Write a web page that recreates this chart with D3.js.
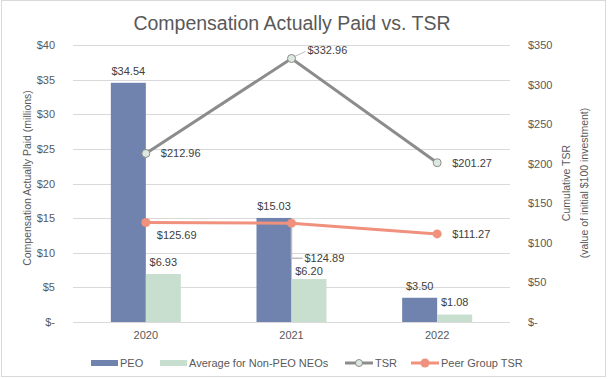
<!DOCTYPE html>
<html>
<head>
<meta charset="utf-8">
<script src="https://cdn.jsdelivr.net/npm/d3@7"></script>
<style>
  body { margin: 0; background: #fff; }
  text { font-family: "Liberation Sans", Arial, sans-serif; fill: #595959; }
</style>
</head>
<body>
<div id="chart"></div>
<script>
// data
const years = ["2020", "2021", "2022"];
const peo = [34.54, 15.03, 3.50];
const neo = [6.93, 6.20, 1.08];
const tsr = [212.96, 332.96, 201.27];
const peer = [125.69, 124.89, 111.27];
const leftTicks = [0, 5, 10, 15, 20, 25, 30, 35, 40];
const rightTicks = [0, 50, 100, 150, 200, 250, 300, 350];

const width = 608, height = 379;
const plotLeft = 73, plotRight = 510, plotTop = 45, plotBottom = 322;

const svg = d3.select("#chart").append("svg")
  .attr("width", width).attr("height", height);

svg.append("rect")
  .attr("x", 1.5).attr("y", 0.5)
  .attr("width", 604).attr("height", 376)
  .attr("fill", "#fff").attr("stroke", "#d9d9d9");

const x = d3.scaleBand().domain(years).range([plotLeft, plotRight]);
const xb = d3.scaleBand().domain(["peo", "neo"]).range([-35, 35]);
const y = d3.scaleLinear().domain([0, 40]).range([plotBottom, plotTop]);
const y2 = d3.scaleLinear().domain([0, 350]).range([plotBottom, plotTop]);
const cx = d => x(d) + x.bandwidth() / 2;

const money = d => d === 0 ? "$-" : "$" + d;
const money2 = d => "$" + d.toFixed(2);
const labelColor = "#404040";

// grid lines
svg.append("g").selectAll("line").data(leftTicks).enter().append("line")
  .attr("x1", plotLeft).attr("x2", plotRight)
  .attr("y1", d => Math.round(y(d)) + 0.5).attr("y2", d => Math.round(y(d)) + 0.5)
  .attr("stroke", "#d9d9d9");

// left axis
const ax = svg.append("g")
  .attr("transform", `translate(${plotLeft - 15},0)`)
  .call(d3.axisLeft(y).tickValues(leftTicks).tickFormat(money).tickSize(0));
ax.select(".domain").remove();
ax.selectAll("text").attr("font-size", 11).attr("fill", "#595959");

// right axis
const ay = svg.append("g")
  .attr("transform", `translate(${plotRight + 15},0)`)
  .call(d3.axisRight(y2).tickValues(rightTicks).tickFormat(money).tickSize(0));
ay.select(".domain").remove();
ay.selectAll("text").attr("font-size", 11).attr("fill", "#595959");

// x axis
const axb = svg.append("g")
  .attr("transform", `translate(0,${plotBottom + 6})`)
  .call(d3.axisBottom(x).tickSize(0));
axb.select(".domain").remove();
axb.selectAll("text").attr("font-size", 11).attr("fill", "#595959");

// bars
const barColors = { peo: "#6f83ae", neo: "#c8dfcf" };
const series = [["peo", peo], ["neo", neo]];
const labelGap = [[12, 12, 12], [12, 8, 12]];
series.forEach(([key, vals], si) => {
  svg.append("g").selectAll("rect").data(vals).enter().append("rect")
    .attr("x", (d, i) => cx(years[i]) + xb(key))
    .attr("y", d => y(d))
    .attr("width", xb.bandwidth())
    .attr("height", d => plotBottom - y(d))
    .attr("fill", barColors[key]);
  svg.append("g").selectAll("text").data(vals).enter().append("text")
    .attr("x", (d, i) => cx(years[i]) + xb(key) + xb.bandwidth() / 2)
    .attr("y", (d, i) => y(d) - labelGap[si][i])
    .attr("dy", "0.35em")
    .attr("text-anchor", "middle")
    .attr("font-size", 11)
    .style("fill", labelColor)
    .text(money2);
});

// lines
const line = d3.line().x((d, i) => cx(years[i])).y(d => y2(d));
svg.append("path").datum(tsr).attr("d", line)
  .attr("fill", "none").attr("stroke", "#8c8c8c").attr("stroke-width", 3);
svg.append("path").datum(peer).attr("d", line)
  .attr("fill", "none").attr("stroke", "#f0917e").attr("stroke-width", 3);

// leader lines
svg.append("line")
  .attr("x1", cx("2021") + 3).attr("y1", y2(tsr[1]) - 2)
  .attr("x2", cx("2021") + 14).attr("y2", y2(tsr[1]) - 7)
  .attr("stroke", "#bfbfbf");
svg.append("polyline")
  .attr("points", [[cx("2021"), y2(peer[1]) + 3], [cx("2021"), y2(peer[1]) + 35], [cx("2021") + 11, y2(peer[1]) + 35]].join(" "))
  .attr("fill", "none").attr("stroke", "#bfbfbf").attr("stroke-width", 1.5);

svg.append("g").selectAll("circle").data(tsr).enter().append("circle")
  .attr("cx", (d, i) => cx(years[i])).attr("cy", d => y2(d)).attr("r", 4)
  .attr("fill", "#dce9e0").attr("stroke", "#8c8c8c").attr("stroke-width", 1);
svg.append("g").selectAll("circle").data(peer).enter().append("circle")
  .attr("cx", (d, i) => cx(years[i])).attr("cy", d => y2(d)).attr("r", 4.5)
  .attr("fill", "#f0917e");

// line labels (dx, dy relative to the point)
const tsrOff = [[15, 0], [16, -8], [15, 0]];
const peerOff = [[11, 13], [13, 35], [15, 0]];
[[tsr, tsrOff], [peer, peerOff]].forEach(([vals, off]) => {
  svg.append("g").selectAll("text").data(vals).enter().append("text")
    .attr("x", (d, i) => cx(years[i]) + off[i][0])
    .attr("y", (d, i) => y2(d) + off[i][1])
    .attr("dy", "0.35em")
    .attr("font-size", 11)
    .style("fill", labelColor)
    .text(money2);
});

// titles
svg.append("text").attr("x", 292).attr("y", 23).attr("dy", "0.35em")
  .attr("text-anchor", "middle").attr("font-size", 19.5)
  .text("Compensation Actually Paid vs. TSR");

svg.append("text")
  .attr("transform", "translate(27,178) rotate(-90)")
  .attr("dy", "0.35em").attr("text-anchor", "middle").attr("font-size", 10.5)
  .text("Compensation Actually Paid (millions)");

const rt = svg.append("text")
  .attr("transform", "translate(575,183) rotate(-90)")
  .attr("text-anchor", "middle").attr("font-size", 10.5);
rt.append("tspan").attr("x", 0).attr("dy", "-0.5em").text("Cumulative TSR");
rt.append("tspan").attr("x", 0).attr("dy", "1.75em").text("(value of initial $100 investment)");

// legend
const ly = 363;
const legend = [
  { type: "bar", color: "#6f83ae", label: "PEO", x: 91 },
  { type: "bar", color: "#c8dfcf", label: "Average for Non-PEO NEOs", x: 160 },
  { type: "tsr", color: "#8c8c8c", label: "TSR", x: 345 },
  { type: "peer", color: "#f0917e", label: "Peer Group TSR", x: 411 }
];
const lg = svg.append("g").selectAll("g").data(legend).enter().append("g")
  .attr("transform", d => `translate(${d.x},${ly})`);
lg.filter(d => d.type === "bar").append("rect")
  .attr("x", 0).attr("y", -3).attr("width", 27).attr("height", 6)
  .attr("fill", d => d.color);
lg.filter(d => d.type !== "bar").append("line")
  .attr("x1", 0).attr("x2", 28).attr("stroke", d => d.color).attr("stroke-width", 3);
lg.filter(d => d.type === "tsr").append("circle")
  .attr("cx", 14).attr("r", 3.5).attr("fill", "#dce9e0").attr("stroke", "#8c8c8c");
lg.filter(d => d.type === "peer").append("circle")
  .attr("cx", 14).attr("r", 4.5).attr("fill", "#f0917e");
lg.append("text")
  .attr("x", d => d.type === "bar" ? 29 : 30)
  .attr("dy", "0.35em").attr("font-size", 11)
  .text(d => d.label);
</script>
</body>
</html>
